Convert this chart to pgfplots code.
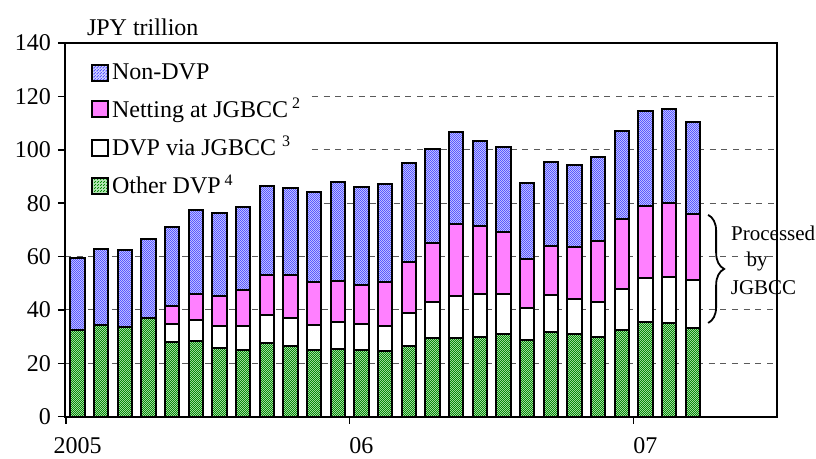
\documentclass[border=0pt]{standalone}
\usepackage{fontspec}
\setmainfont{Liberation Serif}
\usepackage{pgfplots}
\usepackage{pgfplotstable}
\pgfplotsset{compat=1.18}
\usetikzlibrary{patterns,patterns.meta,decorations.pathreplacing}

\tikzdeclarepattern{
  name=fineNE,
  type=uncolored,
  bottom left={(0pt,0pt)},
  top right={(1.2pt,1.2pt)},
  tile size={(1.2pt,1.2pt)},
  code={
    \pgfsetlinewidth{0.3pt}
    \pgfpathmoveto{\pgfpoint{-0.3pt}{-0.3pt}}
    \pgfpathlineto{\pgfpoint{1.5pt}{1.5pt}}
    \pgfpathmoveto{\pgfpoint{-0.3pt}{0.9pt}}
    \pgfpathlineto{\pgfpoint{0.3pt}{1.5pt}}
    \pgfpathmoveto{\pgfpoint{0.9pt}{-0.3pt}}
    \pgfpathlineto{\pgfpoint{1.5pt}{0.3pt}}
    \pgfusepath{stroke}
  }
}
\tikzdeclarepattern{
  name=finechecker,
  type=uncolored,
  bottom left={(0pt,0pt)},
  top right={(1.2pt,1.2pt)},
  tile size={(1.2pt,1.2pt)},
  code={
    \pgfpathrectangle{\pgfpoint{0pt}{0pt}}{\pgfpoint{0.6pt}{0.6pt}}
    \pgfpathrectangle{\pgfpoint{0.6pt}{0.6pt}}{\pgfpoint{0.6pt}{0.6pt}}
    \pgfusepath{fill}
  }
}

\definecolor{bluebg}{RGB}{230,230,255}
\definecolor{blueln}{RGB}{60,60,255}
\definecolor{pinkfill}{RGB}{255,128,255}
\definecolor{greenbg}{RGB}{180,230,180}
\definecolor{greenln}{RGB}{10,140,10}
\definecolor{gridgray}{RGB}{90,90,90}

\pgfplotstableread{
i other dvp net non
0 32.5 0 0 27.1
1 34.4 0 0 28.6
2 33.7 0 0 28.6
3 37.1 0 0 29.4
4 28.0 6.9 6.4 29.9
5 28.3 8.0 9.7 31.4
6 25.6 8.4 11.4 30.9
7 24.9 9.2 13.4 30.9
8 27.5 10.5 14.9 33.6
9 26.5 10.4 16.2 32.5
10 24.8 9.6 16.2 33.7
11 25.4 10.2 15.3 36.9
12 25.0 9.6 14.9 36.4
13 24.6 9.5 16.3 36.9
14 26.6 12.2 19.3 36.9
15 29.6 13.5 22.1 35.2
16 29.6 15.8 26.9 34.3
17 30.0 16.0 25.6 31.8
18 30.9 15.0 23.4 31.8
19 28.6 12.3 18.2 28.3
20 31.9 13.6 18.6 31.5
21 30.9 13.1 19.5 30.9
22 29.8 13.2 22.9 31.5
23 32.6 15.4 26.0 33.2
24 35.5 16.6 26.9 35.4
25 35.0 17.5 27.5 35.4
26 33.1 18.2 24.7 34.5
}\datatable

\begin{document}
\begin{tikzpicture}
\foreach \yy in {26.69,53.39,80.08} {
  \draw[gridgray, line width=0.5pt, dash pattern=on 3pt off 2.85pt] (0pt,\yy pt) -- (356pt,\yy pt);
}
\foreach \yy in {106.78,133.46,160.16} {
  \draw[gridgray, line width=0.5pt, dash pattern=on 3pt off 2.85pt] (123.4pt,\yy pt) -- (356pt,\yy pt);
}
% frame: top and right edges of the plot area, as thin filled strips
\fill[black] (-0.5pt,186.35pt) rectangle (356.5pt,187.35pt);
\fill[black] (355.5pt,-0.5pt) rectangle (356.5pt,187.35pt);
\begin{axis}[
  scale only axis,
  width=356pt, height=186.85pt,
  xmin=-0.53, xmax=29.56,
  ymin=0, ymax=140,
  ybar stacked,
  bar width=0.6,
  clip=false,
  axis lines=box,
  axis line style={line width=1pt, black},
  tick align=outside,
  ytick={0,20,...,140},
  major tick length=3.5pt,
  tick style={line width=0.8pt, black},
  xtick={-0.5,11.5,23.5},
  xticklabels={},
  extra x ticks={0,12,24},
  extra x tick labels={2005,06,07},
  extra x tick style={major tick length=0pt, tick style={draw=none}},
  xticklabel style={yshift=-7pt},
  ticklabel style={font=\fontsize{12}{14}\selectfont},
  xtick pos=bottom, ytick pos=left,
  /pgf/number format/assume math mode=true,
  legend image code/.code={\draw[#1, line width=1pt] (0pt,-4pt) rectangle (8pt,4pt);},
  reverse legend,
  legend cell align=left,
  legend style={at={(0.0276,0.968)}, anchor=north west, draw=none, fill=none,
    font=\fontsize{12}{14}\selectfont, row sep=4pt,
    nodes={inner xsep=1.5pt, inner ysep=2pt}},
]
\addplot[draw=black, line width=1pt, fill=greenbg, postaction={pattern=finechecker, pattern color=greenln}] table[x=i, y=other] {\datatable};
\addlegendentry{Other DVP\,\textsuperscript{4}}
\addplot[draw=black, line width=1pt, fill=white] table[x=i, y=dvp] {\datatable};
\addlegendentry{DVP via JGBCC \textsuperscript{3}}
\addplot[draw=black, line width=1pt, fill=pinkfill] table[x=i, y=net] {\datatable};
\addlegendentry{Netting at JGBCC\,\textsuperscript{2}}
\addplot[draw=black, line width=1pt, fill=bluebg, postaction={pattern=fineNE, pattern color=blueln}] table[x=i, y=non] {\datatable};
\addlegendentry{Non-DVP}

\node[anchor=base west, font=\fontsize{12}{14}\selectfont, xshift=7.5pt, yshift=3.75pt] at (rel axis cs:0,1) {JPY trillion};

\draw[line width=0.9pt, decorate, decoration={brace, amplitude=8pt}] (axis cs:26.65,75.6) -- (axis cs:26.65,35.1);
\node[anchor=base, font=\fontsize{10.5}{12}\selectfont] at (axis cs:29.40,66.0) {Processed};
\node[anchor=base, font=\fontsize{10.5}{12}\selectfont] at (axis cs:28.72,56.2) {by};
\node[anchor=base, font=\fontsize{10.5}{12}\selectfont] at (axis cs:28.99,45.6) {JGBCC};
\end{axis}
\pgfresetboundingbox
\useasboundingbox (-32.5pt,-21.15pt) rectangle (375.5pt,208.35pt);
\end{tikzpicture}
\end{document}
